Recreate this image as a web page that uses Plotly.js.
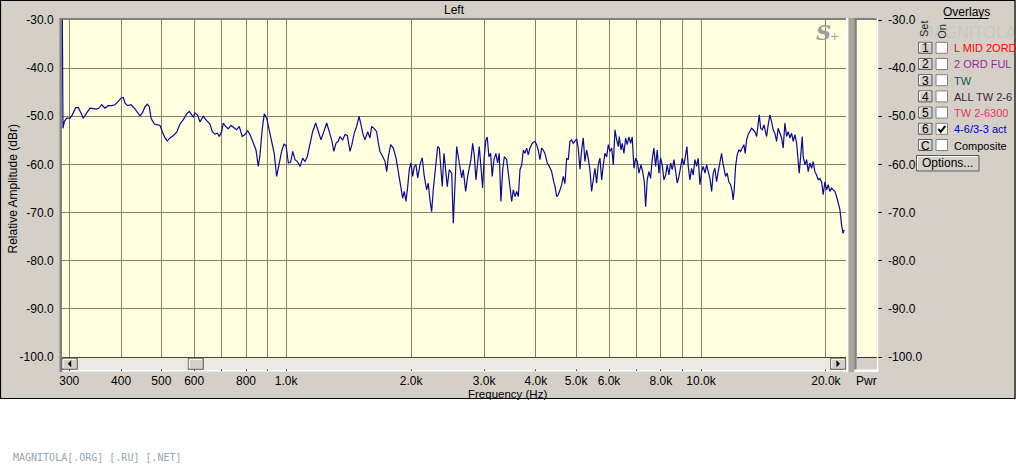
<!DOCTYPE html>
<html><head><meta charset="utf-8">
<script src="https://cdn.plot.ly/plotly-3.0.1.min.js"></script>
<style>html,body{margin:0;padding:0;background:#fff;}#chart{width:1016px;height:466px;}</style>
</head><body><div id="chart"></div>
<script>
// ---------------- data ----------------
const freqHz = [
288.6,289.2,289.7,291.8,295.7,301.2,305.0,310.9,315.4,320.1,324.3,330.4,336.5,342.7,349.3,353.8,359.1,365.8,372.5,379.7,
386.7,393.8,400,404.9,408.8,414.9,422.6,430.4,436.2,444.3,450,456.8,462.6,467.8,472.2,481,490.1,496.4,502.8,510.4,
517,524.7,534.5,544.6,554.6,564.9,575.7,584.2,591.9,597.2,602.7,611.8,619.6,631.1,643.1,655,663.4,673.4,682.1,689.7,
698.8,705.1,714.6,724.9,735.8,745.3,759.5,770.6,783.5,795.3,807.6,818,833,845.7,856.5,864.7,875.8,885.5,897.4,908.6,
922.2,935.6,948.2,960.4,974.9,987.4,999,1012,1025,1037,1050,1064,1080,1096,1110,1124,1141,1158,1178,1195,
1213,1229,1252,1270,1287,1303,1318,1335,1348,1368,1386,1404,1425,1440,1459,1479,1498,1512,1529,1548,
1572,1592,1607,1628,1652,1668,1683,1709,1731,1747,1763,1786,1812,1840,1863,1891,1909,1926,1944,1963,
1980,1999,2018,2036,2055,2075,2101,2128,2152,2181,2200,2221,2242,2262,2293,2318,2339,2361,2378,2401,
2424,2445,2472,2506,2528,2552,2576,2599,2624,2649,2672,2708,2738,2762,2788,2815,2840,2867,2894,2920,
2947,2975,3002,3030,3052,3081,3110,3138,3168,3203,3233,3263,3293,3326,3355,3400,3431,3463,3496,3527,
3561,3595,3627,3661,3696,3729,3763,3799,3833,3869,3919,3978,4016,4051,4090,4128,4165,4205,4259,4307,
4365,4404,4446,4488,4527,4571,4614,4655,4699,4743,4786,4831,4877,4920,4967,5014,5058,5107,5155,5201,
5250,5299,5346,5397,5448,5497,5549,5602,5652,5705,5762,5813,5868,5924,5977,6033,6091,6145,6203,6262,
6318,6353,6413,6457,6518,6580,6638,6701,6765,6825,6892,6957,7019,7086,7165,7233,7298,7354,7417,7488,
7558,7626,7698,7772,7841,7916,7991,8062,8139,8216,8290,8368,8448,8524,8605,8686,8764,8847,8931,9010,
9095,9182,9248,9315,9400,9489,9574,9665,9757,9846,9939,10033,10123,10219,10316,10408,10506,10606,10699,10801,
10903,11000,11104,11209,11290,11373,11461,11562,11671,11783,11887,11953,12020,12114,12222,12337,12455,12567,12687,12778,
12878,12993,13116,13241,13359,13489,13616,13738,13815,13923,14047,14179,14315,14393,14517,14655,14793,14925,15067,15210,
15345,15493,15640,15779,15929,16080,16224,16378,16533,16682,16840,17000,17151,17247,17383,17537,17634,17801,17970,18130,
18302,18475,18635,18811,18989,19160,19340,19524,19702,19889,20078,20256,20450,20642,20826,21023,21223,21412,21615,21819,
22002,22134
];
const levelDbr = [
-29,-41.4,-52.5,-51.1,-50.4,-50.4,-49.7,-48.2,-48.2,-49.3,-50.4,-49.3,-48.3,-48.4,-48.5,-48.3,-47.6,-48.3,-47.8,-47.8,
-47.6,-46.9,-46.2,-46.1,-47.3,-47.8,-47.6,-48.3,-48.9,-49.9,-49.3,-48.0,-47.5,-48.0,-50.4,-51.6,-51.8,-51.9,-53.2,-54.5,
-55.1,-54.5,-54.0,-53.3,-51.6,-50.7,-49.5,-49.0,-49.7,-50.2,-49.3,-49.8,-51.2,-50.0,-50.9,-51.6,-53.2,-53.7,-53.5,-54.2,
-53.2,-51.4,-52.1,-52.6,-51.9,-52.3,-52.8,-52.1,-54.2,-53.8,-53.0,-53.8,-55.4,-57.0,-60.4,-58.0,-52.5,-49.5,-50.4,-52.5,
-55.4,-57.7,-62.5,-60.1,-57.3,-55.8,-56.1,-59.7,-59.5,-57.3,-59.0,-59.4,-60.4,-58.7,-59.4,-58.4,-55.6,-53.2,-51.4,-53.2,
-54.9,-53.5,-51.4,-53.2,-54.9,-57.3,-55.6,-55.2,-54.2,-54.9,-53.8,-54.0,-57.3,-55.9,-53.5,-52.1,-50.0,-51.4,-53.5,-54.9,
-53.2,-54.5,-52.1,-52.5,-53.2,-55.6,-57.3,-58.4,-59.4,-61.5,-58.4,-55.9,-56.6,-58.7,-61.5,-64.6,-67.0,-65.6,-67.7,-64.6,
-61.1,-59.7,-62.5,-60.4,-60.1,-62.8,-60.1,-58.6,-62.5,-65.3,-63.9,-67.4,-69.8,-65.3,-59.4,-56.3,-56.6,-61.5,-64.6,-57.7,
-62.2,-64.6,-61.1,-61.8,-72.2,-64.6,-56.3,-58.4,-60.8,-62.8,-61.1,-65.6,-62.5,-60.4,-59.0,-55.6,-58.0,-63.2,-58.7,-56.3,
-60.4,-64.9,-58.4,-54.9,-54.3,-58.4,-57.7,-62.5,-59.0,-57.7,-59.7,-57.7,-67.7,-61.1,-58.4,-59.0,-61.8,-64.6,-67.7,-65.3,
-66.7,-65.6,-66.7,-61.1,-60.1,-57.0,-57.7,-56.6,-58.0,-56.6,-55.6,-55.2,-55.9,-57.0,-59.0,-56.6,-57.0,-57.7,-59.7,-60.4,
-61.5,-63.2,-64.6,-66.7,-66.3,-65.3,-64.2,-62.5,-64.0,-58.7,-59.0,-55.2,-54.9,-55.6,-55.0,-54.7,-56.6,-61.0,-57.0,-54.5,
-59.4,-57.0,-58.7,-61.1,-65.6,-63.2,-60.8,-63.9,-60.1,-58.7,-63.2,-60.1,-57.7,-58.4,-55.9,-57.3,-56.6,-60.1,-52.8,-54.9,
-56.3,-54.2,-57.0,-55.6,-57.7,-54.5,-55.9,-54.3,-55.6,-54.3,-60.8,-58.7,-59.4,-61.8,-60.1,-61.5,-63.6,-68.8,-63.2,-61.5,
-62.9,-59.0,-56.6,-60.4,-57.0,-61.8,-58.7,-60.1,-63.2,-62.2,-60.1,-62.2,-59.7,-61.1,-59.0,-61.5,-63.9,-62.5,-60.4,-58.7,
-60.1,-57.7,-56.3,-60.4,-63.2,-60.8,-62.2,-59.0,-60.4,-58.7,-64.2,-61.5,-60.4,-61.8,-60.1,-61.5,-62.9,-65.6,-61.8,-60.8,
-63.6,-61.5,-59.7,-57.7,-59.7,-61.5,-62.5,-61.8,-63.6,-64.2,-65.6,-67.4,-65.3,-60.4,-58.0,-57.0,-57.3,-56.6,-55.9,-57.7,
-54.9,-53.8,-53.2,-52.5,-52.8,-53.2,-54.2,-50.7,-49.7,-52.5,-52.8,-51.8,-53.2,-54.2,-51.8,-49.7,-51.1,-52.8,-53.5,-55.2,
-52.5,-53.8,-54.5,-56.6,-51.4,-54.2,-53.2,-54.5,-53.5,-55.2,-53.8,-55.6,-59.4,-61.8,-58.4,-54.2,-58.4,-60.1,-59.0,-61.5,
-59.7,-60.8,-59.4,-61.5,-62.2,-63.2,-62.9,-63.6,-66.3,-63.6,-65.3,-64.2,-65.6,-64.9,-65.3,-65.6,-66.7,-68.0,-69.4,-72.6,
-74.3,-73.6
];
const xTickVals = [300,400,500,600,700,800,900,1000,2000,3000,4000,5000,6000,7000,8000,9000,10000,20000];
const xTickText = ["300","400","500","600","","800","","1.0k","2.0k","3.0k","4.0k","5.0k","6.0k","","8.0k","","10.0k","20.0k"];
const yTickVals = [-30,-40,-50,-60,-70,-80,-90,-100];
const yTickText = ["-30.0","-40.0","-50.0","-60.0","-70.0","-80.0","-90.0","-100.0"];
const overlaySets = ["1","2","3","4","5","6","C"];
const overlayNames = ["L MID 2ORD","2 ORD FUL","TW","ALL TW 2-6","TW 2-6300","4-6/3-3 act","Composite"];
const overlayOn = [false,false,false,false,false,true,false];

// ---------------- layout helpers ----------------
const W = 1016, H = 466;
const px = x => x / W, py = y => 1 - y / H;
const FONT = "Liberation Sans, Arial, sans-serif";
const BG = "#d4d0c8";
const overlayColors = ["#ff0000","#9a2a9a","#0f5555","#3a1a3a","#e0386a","#0000cc","#000000"];
const shapes = [];
function rect(x0,y0,x1,y1,fill,lc,lw,layer){
  shapes.push({type:"rect",xref:"paper",yref:"paper",x0:px(x0),x1:px(x1),y0:py(y1),y1:py(y0),
    fillcolor:fill||"rgba(0,0,0,0)",line:{color:lc||"rgba(0,0,0,0)",width:lw||0},layer:layer||"above"});
}
function path(pts,lc,lw,fill){
  const d = pts.map((p,i)=>(i?"L":"M")+px(p[0]).toFixed(5)+","+py(p[1]).toFixed(5)).join(" ")+(fill?" Z":"");
  shapes.push({type:"path",xref:"paper",yref:"paper",path:d,line:{color:lc,width:lw},fillcolor:fill||"rgba(0,0,0,0)",layer:"above"});
}
function button(x0,y0,x1,y1){
  rect(x0,y0,x1,y1,BG,"#5a5a5a",1);
  path([[x0+1,y1-1.5],[x0+1,y0+1],[x1-1.5,y0+1]],"#ffffff",1);
}
const ann = [];
function text(t,x,y,opt){
  ann.push(Object.assign({text:t,x:px(x),y:py(y),xref:"paper",yref:"paper",showarrow:false,
    xanchor:"center",yanchor:"middle",font:{family:FONT,size:12,color:"#000"}},opt||{}));
}

// outer window
rect(0,399,1016,466,"#ffffff",null,0,"below");
rect(0.5,0.5,1015,398.5,null,"#000000",1.2);
// main plot frame
rect(59.5,18,62,372,"#808080");
rect(59.5,18,847,20,"#808080");
rect(846,18,848.5,372,"#ffffff");
rect(59.5,369.5,848.5,371.5,"#ffffff",null,0,"below");
rect(848.5,18,854.3,372,"#aaa69e");
// scrollbar
rect(62,357.8,846,369.5,"#ebe9e4");
button(62,358.3,77.3,369.3);
button(188.3,358.3,203.3,369.3);
button(830.7,358.3,845.7,369.3);
path([[68,363.8],[71,360.8],[71,366.8]],"#000",0.5,"#000");
path([[839.7,363.8],[836.7,360.8],[836.7,366.8]],"#000",0.5,"#000");
// Pwr panel frame
rect(854.3,18,856.7,372,"#808080");
rect(854.3,18,878.3,20,"#808080");
rect(876.7,18,878.3,372,"#ffffff");
rect(856.7,357.8,876.7,369.5,BG);
rect(854.3,369.5,878.3,372,"#ffffff");
// overlays panel
overlaySets.forEach((s,i)=>{
  const cy = 47.8 + i*16.2;
  button(918.7,cy-5.5,932,cy+5.5);
  text(s,925.5,cy+0.5,{font:{family:FONT,size:12,color:"#000"}});
  rect(936,cy-5.5,947.5,cy+5.5,"#ffffff","#808080",1);
  if (overlayOn[i]) path([[938.3,cy],[940.8,cy+3],[945.3,cy-3]],"#000",2);
  text(overlayNames[i],951.5,cy+0.5,{xanchor:"left",font:{family:FONT,size:11,color:overlayColors[i]}});
});
button(916.5,155.5,979,171);
text("Options...",947.5,163.5);

text("MAGNITOLA",968,33,{font:{family:"DejaVu Sans, sans-serif",size:16,color:"rgba(120,160,150,0.18)"}});
text("Overlays",966,12,{font:{family:FONT,size:12,color:"#000"}});
shapes.push({type:"line",xref:"paper",yref:"paper",x0:px(944),x1:px(988.5),y0:py(18.5),y1:py(18.5),line:{color:"#000",width:1},layer:"above"});
text("Set",924,29,{textangle:-90,font:{family:FONT,size:11,color:"#222"}});
text("On",942.3,31.5,{textangle:-90,font:{family:FONT,size:11,color:"#222"}});

text("Left",454,9.5);
text("Relative Amplitude (dBr)",12.5,189,{textangle:-90});
text("Frequency (Hz)",507.7,393.6,{font:{family:FONT,size:11.5,color:"#000"}});
text("Pwr",866.5,381);
text("<b><i>S</i></b>",823,33,{font:{family:"DejaVu Serif, Liberation Serif, serif",size:21,color:"#9c9c9c"}});
text("+",834,36,{font:{family:"DejaVu Serif, serif",size:11,color:"#9c9c9c"}});
text("MAGNITOLA[.ORG] [.RU] [.NET]",11,457,{xanchor:"left",font:{family:"DejaVu Sans Mono, monospace",size:10,color:"#98a4ac"}});

const GRID = "#80806c";
const layout = {
  width:W,height:H,autosize:false,showlegend:false,
  margin:{l:0,r:0,t:0,b:0,pad:0},
  paper_bgcolor:BG, plot_bgcolor:"#ffffe0",
  font:{family:FONT,size:12,color:"#000"},
  xaxis:{type:"log",domain:[px(62),px(846)],range:[Math.log10(288.1),Math.log10(22360)],
    tickmode:"array",tickvals:xTickVals,ticktext:xTickText,ticks:"outside",ticklen:13,tickwidth:1,tickcolor:"#303030",
    showgrid:true,gridcolor:GRID,gridwidth:1,zeroline:false,showline:true,linecolor:"#00007a",linewidth:1,
    tickfont:{family:FONT,size:12,color:"#000"},fixedrange:true,anchor:"y"},
  yaxis:{domain:[py(357),py(20)],range:[-100,-30],tickmode:"array",tickvals:yTickVals,ticktext:yTickText,
    ticks:"outside",ticklen:5,tickcolor:"rgba(0,0,0,0)",showgrid:true,gridcolor:GRID,gridwidth:1,
    zeroline:false,showline:false,tickfont:{family:FONT,size:12,color:"#000"},fixedrange:true,anchor:"x"},
  xaxis2:{domain:[px(856.7),px(876.7)],range:[0,1],anchor:"y2",showgrid:false,zeroline:false,
    showticklabels:false,ticks:"",showline:true,linecolor:"#00007a",linewidth:1,fixedrange:true},
  yaxis2:{domain:[py(357),py(20)],range:[-100,-30],anchor:"x2",side:"right",tickmode:"array",
    tickvals:yTickVals,ticktext:yTickText,ticks:"outside",ticklen:4,tickcolor:"#000",tickwidth:1,ticklabelstandoff:4,
    showgrid:false,zeroline:false,showline:false,tickfont:{family:FONT,size:12,color:"#000"},fixedrange:true},
  shapes:shapes, annotations:ann
};
const data = [
  {type:"scatter",mode:"lines",x:freqHz,y:levelDbr,xaxis:"x",yaxis:"y",
   line:{color:"#0a0a96",width:1.2},hoverinfo:"skip"},
  {type:"scatter",mode:"lines",x:[],y:[],xaxis:"x2",yaxis:"y2",hoverinfo:"skip"}
];
Plotly.newPlot("chart",data,layout,{staticPlot:true,displayModeBar:false});
</script>
</body></html>
